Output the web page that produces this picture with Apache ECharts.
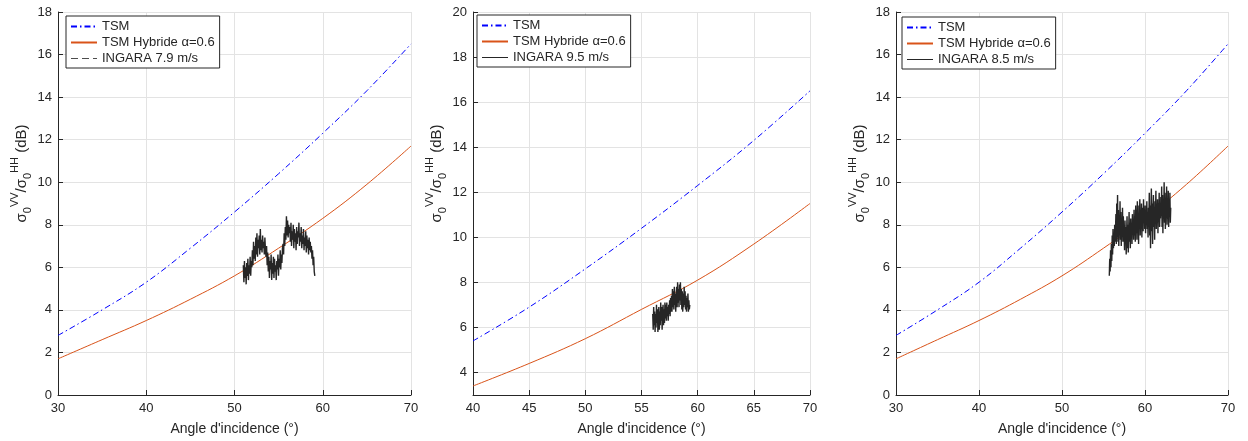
<!DOCTYPE html>
<html><head><meta charset="utf-8">
<script src="https://cdn.jsdelivr.net/npm/echarts@6/dist/echarts.min.js"></script>
<style>html,body{margin:0;padding:0;background:#fff}#c{width:1248px;height:441px}</style>
</head><body><div id="c"></div>
<script>
// ---- Data ----
const curveAngles1 = [30,35,40,45,50,55,60,65,70];
const tsm1 = [2.8,4.0,5.3,6.9,8.6,10.4,12.3,14.3,16.5];
const hyb1 = [1.7,2.6,3.5,4.5,5.6,6.9,8.3,9.9,11.7];
const curveAngles2 = [40,45,50,55,60,65,70];
const tsm2 = [5.4,6.9,8.6,10.4,12.3,14.3,16.5];
const hyb2 = [3.4,4.4,5.5,6.8,8.1,9.7,11.5];
const curveAngles3 = [30,35,40,45,50,55,60,65,70];
const tsm3 = [2.8,4.0,5.3,6.9,8.6,10.4,12.3,14.3,16.5];
const hyb3 = [1.7,2.6,3.5,4.5,5.6,6.9,8.3,9.9,11.7];

const ingara1Range = [51.0, 59.1];
const ingara1 = [6.1,5.3,6.3,5.5,6.0,5.2,6.2,5.6,6.4,5.4,6.1,5.7,6.5,5.6,6.3,6.0,
 6.8,6.1,7.2,6.4,7.0,6.3,7.4,6.6,7.6,6.5,7.3,6.9,7.5,6.6,7.8,6.8,7.3,6.7,7.5,6.9,7.2,6.6,7.4,6.8,
 6.5,7.0,6.1,6.7,5.8,6.5,5.5,6.3,5.9,6.6,5.4,6.2,5.7,6.5,5.5,6.4,5.8,6.1,5.4,6.3,5.9,6.6,5.6,6.4,6.0,6.8,5.9,6.6,6.2,6.9,
 7.1,6.6,7.6,7.0,7.9,7.3,8.4,7.5,8.2,7.4,8.0,7.6,
 7.9,7.2,8.1,7.0,7.7,7.3,8.0,6.9,7.8,7.2,7.6,6.8,7.9,7.1,7.7,7.4,8.1,7.0,7.6,7.2,7.9,6.9,7.5,7.1,7.8,6.8,7.4,7.0,7.7,6.7,7.5,6.9,7.3,6.6,7.4,6.8,7.2,6.7,
 7.0,6.4,6.8,6.1,6.5,5.8,5.6];
const ingara2Range = [56.0, 59.3];
const ingara2 = [6.6,5.9,6.9,6.1,6.7,5.8,6.6,6.0,7.0,6.2,6.8,5.8,6.5,6.9,5.9,6.7,6.1,7.1,6.3,6.9,5.9,6.6,7.0,6.1,6.8,6.2,7.1,6.4,7.0,6.3,7.1,6.5,6.9,6.3,7.0,6.6,7.2,6.5,7.3,6.7,
 7.4,6.7,7.7,6.9,7.6,6.8,7.8,7.0,7.5,6.7,7.4,7.8,6.9,8.0,7.1,7.7,6.9,7.9,7.2,8.0,7.0,7.7,6.8,7.6,6.7,7.5,6.9,7.8,7.0,7.6,6.8,7.4,6.7,7.3,6.9,7.5,6.7,7.2,6.8,7.0];
const ingara3Range = [55.7, 63.1];
const ingara3 = [5.6,6.4,5.8,6.8,6.0,7.1,6.3,7.5,6.6,7.8,6.9,7.4,7.0,8.0,7.2,7.7,
 8.5,7.1,9.0,7.4,9.4,7.2,8.7,7.0,8.3,7.5,9.1,7.3,8.6,7.0,8.1,7.6,8.8,7.2,8.4,7.3,
 7.5,6.8,8.2,7.1,7.9,6.6,7.6,8.4,6.9,8.0,6.7,7.7,8.6,7.2,7.9,6.9,8.3,7.4,8.1,7.1,8.5,7.6,8.2,7.3,8.7,7.5,8.4,7.2,8.9,7.6,
 8.7,7.3,9.1,7.7,8.5,7.1,8.9,7.9,9.2,7.5,8.6,7.8,9.0,7.4,8.4,8.8,7.7,9.2,8.1,8.7,7.8,8.9,7.6,8.6,8.0,9.1,7.8,8.5,7.4,8.8,
 8.2,9.5,7.5,8.9,6.9,8.6,9.7,7.7,9.0,7.1,8.7,9.4,7.9,8.8,7.3,9.1,8.3,9.6,7.8,8.9,8.1,9.2,7.6,9.0,8.2,9.5,7.9,8.7,8.3,9.3,
 8.4,9.8,7.9,9.4,7.6,9.1,8.3,10.0,8.1,9.5,7.8,9.2,8.5,9.8,8.0,9.0,8.3,9.6,7.9,9.2,8.4,9.5,8.1,8.8];

const seriesNames = ['TSM','TSM Hybride α=0.6'];
const ingaraNames = ['INGARA 7.9 m/s','INGARA 9.5 m/s','INGARA 8.5 m/s'];
const xTicks1 = [30,70,10];
const xTicks2 = [40,70,5];
const xTicks3 = [30,70,10];
const yTicks2 = [4,6,8,10,12,14,16,18,20];

// ---- Build ----
const pairs = (xs, ys) => xs.map((x,i)=>[x, ys[i]]);
const spread = (range, ys) => ys.map((y,i)=>[range[0] + (range[1]-range[0]) * i/(ys.length-1), y]);

const FONT = 'Liberation Sans';
const TXT = '#262626';
const grids = [
  {left:58, top:12, width:353, height:383},
  {left:473, top:12, width:337, height:383},
  {left:896, top:12, width:332, height:383}
];
const yName = '{s|σ}{sub|0}{sup|VV}{s|/σ}{sub|0}{sup|HH}{s| (dB)}';
const yRich = {
  s:{fontSize:15, color:TXT, fontFamily:FONT, lineHeight:24, verticalAlign:'middle'},
  sub:{fontSize:11, color:TXT, fontFamily:FONT, lineHeight:24, verticalAlign:'bottom'},
  sup:{fontSize:11, color:TXT, fontFamily:FONT, lineHeight:24, verticalAlign:'top'}
};
function xAxis(i, t){
  return {type:'value', gridIndex:i, min:t[0], max:t[1], interval:t[2],
    name:"Angle d'incidence (°)", nameLocation:'middle', nameGap:27,
    nameTextStyle:{fontSize:14, color:TXT, fontFamily:FONT},
    axisLine:{show:true, onZero:false, lineStyle:{color:TXT, width:1}},
    axisTick:{show:true, inside:true, length:5, lineStyle:{color:TXT}},
    axisLabel:{fontSize:13, color:TXT, fontFamily:FONT, margin:7},
    splitLine:{show:true, lineStyle:{color:'#e3e3e3', width:1}}};
}
function yAxis(i, min, max, custom){
  const a = {type:'value', gridIndex:i, min:min, max:max,
    name:yName, nameLocation:'middle', nameGap:22, nameRotate:90,
    nameTextStyle:{rich:yRich, padding:[0,0,0,60]},
    axisLine:{show:true, onZero:false, lineStyle:{color:TXT, width:1}},
    axisTick:{show:true, inside:true, length:5, lineStyle:{color:TXT}},
    axisLabel:{fontSize:13, color:TXT, fontFamily:FONT, margin:6},
    splitLine:{show:true, lineStyle:{color:'#e3e3e3', width:1}}};
  if (custom) {
    a.axisTick.customValues = custom;
    a.axisLabel.customValues = custom;
  } else {
    a.interval = 2;
  }
  return a;
}
const TSM_STYLE = {color:'#0000ff', width:1, type:[6,3,1.5,3]};
const HYB_STYLE = {color:'#d95319', width:1, type:'solid'};
const ING_STYLE = {color:'#262626', width:1.4, type:'solid'};
function curveSeries(i, name, data, style){
  return {type:'line', name:name, xAxisIndex:i, yAxisIndex:i, data:data,
    showSymbol:false, symbol:'none', smooth:0.4, lineStyle:style, itemStyle:{color:style.color},
    silent:true, animation:false, z:2};
}
function ingSeries(i, name, data){
  return {type:'line', name:name, xAxisIndex:i, yAxisIndex:i, data:data,
    showSymbol:false, symbol:'none', lineStyle:ING_STYLE, itemStyle:{color:ING_STYLE.color},
    silent:true, animation:false, z:3};
}
const HIDE_SYM = {color:'rgba(0,0,0,0)', borderColor:'rgba(0,0,0,0)', borderWidth:0};
function legend(left, top, ingName, dashed){
  return {show:true, orient:'vertical', left:left, top:top, itemWidth:26, itemHeight:12, itemGap:3,
    padding:[4,5,3,4], borderColor:TXT, borderWidth:1, backgroundColor:'#fff',
    textStyle:{fontSize:13, color:TXT, fontFamily:FONT},
    itemStyle:HIDE_SYM,
    selectedMode:false, z:10,
    data:[
      {name:seriesNames[0], itemStyle:HIDE_SYM},
      {name:seriesNames[1], itemStyle:HIDE_SYM},
      dashed ? {name:ingName, itemStyle:HIDE_SYM, lineStyle:{color:'#4d4d4d', width:1, type:[7,4]}}
             : {name:ingName, itemStyle:HIDE_SYM, lineStyle:{color:'#262626', width:1}}
    ]};
}
const option = {
  animation:false,
  backgroundColor:'#fff',
  textStyle:{fontFamily:FONT},
  grid: grids,
  xAxis:[xAxis(0,xTicks1), xAxis(1,xTicks2), xAxis(2,xTicks3)],
  yAxis:[yAxis(0,0,18), yAxis(1,3,20,yTicks2), yAxis(2,0,18)],
  legend:[legend(66,16,ingaraNames[0],true), legend(477,15,ingaraNames[1],false), legend(902,17,ingaraNames[2],false)],
  series:[
    curveSeries(0,seriesNames[0],pairs(curveAngles1,tsm1),TSM_STYLE),
    curveSeries(0,seriesNames[1],pairs(curveAngles1,hyb1),HYB_STYLE),
    ingSeries(0,ingaraNames[0],spread(ingara1Range,ingara1)),
    curveSeries(1,seriesNames[0],pairs(curveAngles2,tsm2),TSM_STYLE),
    curveSeries(1,seriesNames[1],pairs(curveAngles2,hyb2),HYB_STYLE),
    ingSeries(1,ingaraNames[1],spread(ingara2Range,ingara2)),
    curveSeries(2,seriesNames[0],pairs(curveAngles3,tsm3),TSM_STYLE),
    curveSeries(2,seriesNames[1],pairs(curveAngles3,hyb3),HYB_STYLE),
    ingSeries(2,ingaraNames[2],spread(ingara3Range,ingara3))
  ]
};
const chart = echarts.init(document.getElementById('c'), null, {renderer:'canvas'});
chart.setOption(option);
</script></body></html>
